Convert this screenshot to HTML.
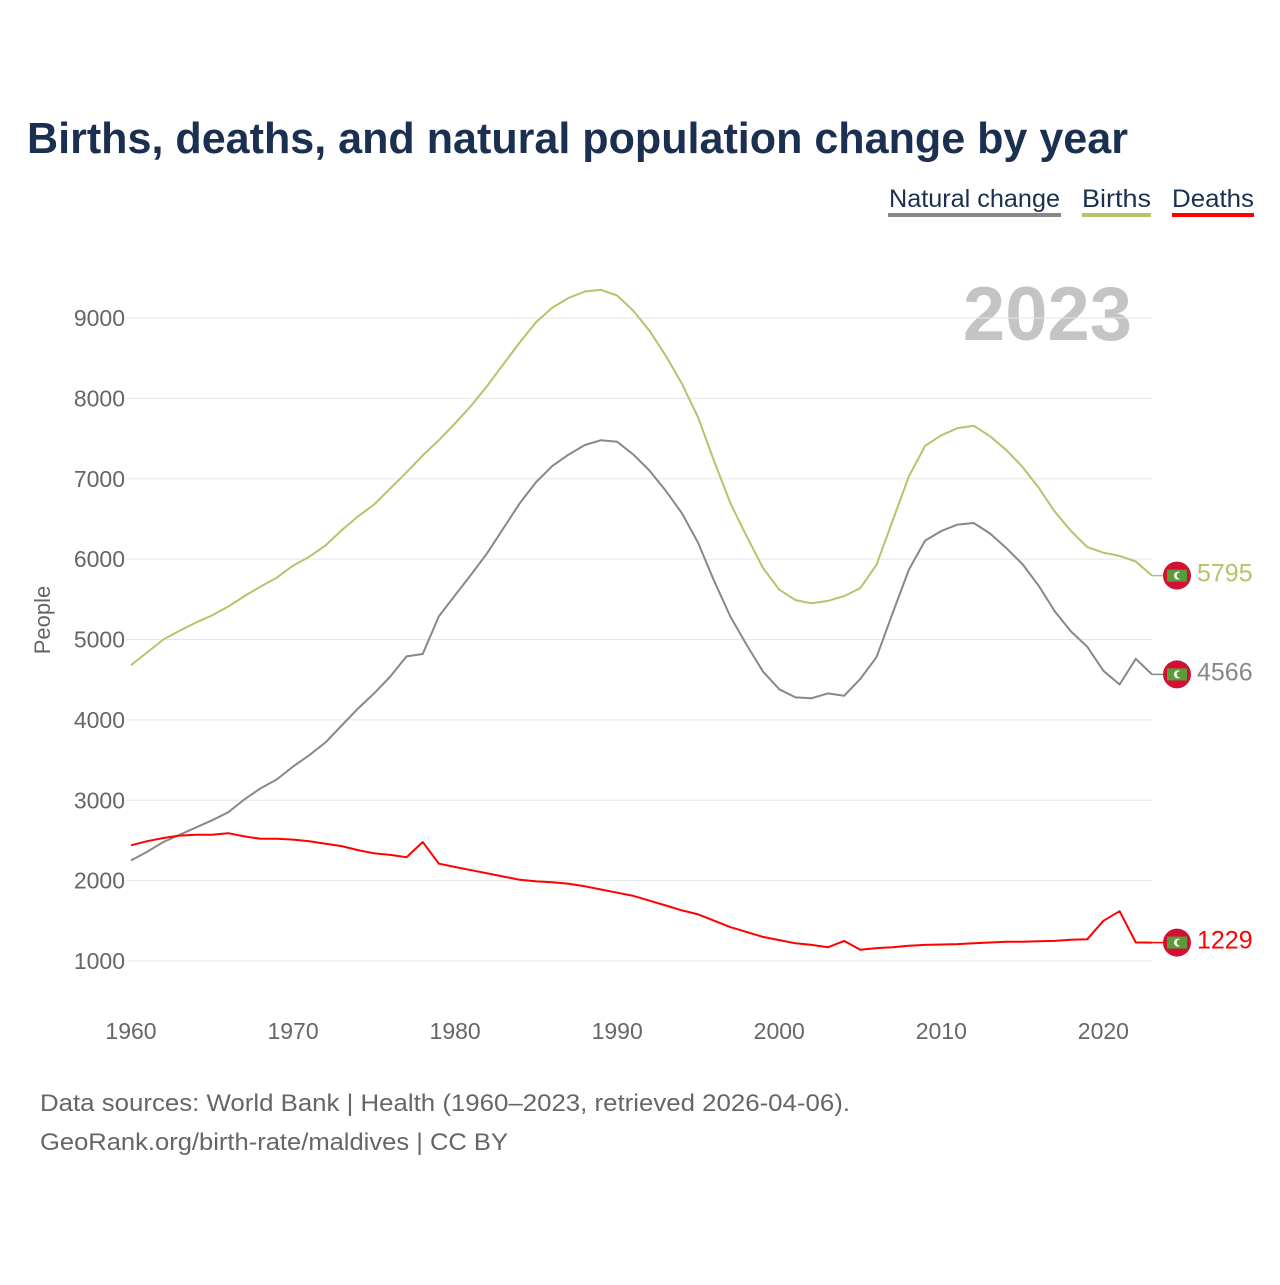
<!DOCTYPE html>
<html><head><meta charset="utf-8"><style>
body{margin:0;background:#fff;}
svg text{font-family:"Liberation Sans",sans-serif;}
</style></head><body>
<svg width="1280" height="1280" xmlns="http://www.w3.org/2000/svg">
<text x="27" y="153" font-size="44" font-weight="bold" fill="#1b3050" textLength="1101" lengthAdjust="spacingAndGlyphs">Births, deaths, and natural population change by year</text>
<g id="legend" font-size="25" fill="#1b3050">
<g><text x="889" y="207" fill="#1b3050" textLength="171" lengthAdjust="spacingAndGlyphs">Natural change</text><rect x="888" y="213" width="173" height="4" fill="#888"/></g>
<g><text x="1082" y="207" fill="#1b3050" textLength="69" lengthAdjust="spacingAndGlyphs">Births</text><rect x="1082" y="213" width="69" height="4" fill="#b5c46a"/></g>
<g><text x="1172" y="207" fill="#1b3050" textLength="82" lengthAdjust="spacingAndGlyphs">Deaths</text><rect x="1172" y="213" width="82" height="4" fill="#ff0000"/></g>
</g>
<text x="1132" y="340" font-size="76" font-weight="bold" fill="#c4c4c4" text-anchor="end">2023</text>
<g id="grid"></g><g id="yt"></g><g id="xt"></g><g id="lines"></g><g id="ends"></g>
<text transform="translate(50,620) rotate(-90)" font-size="22" fill="#666" text-anchor="middle">People</text>
<text x="40" y="1111" font-size="24" fill="#666" textLength="810" lengthAdjust="spacingAndGlyphs">Data sources: World Bank | Health (1960–2023, retrieved 2026-04-06).</text>
<text x="40" y="1150" font-size="24" fill="#666" textLength="468" lengthAdjust="spacingAndGlyphs">GeoRank.org/birth-rate/maldives | CC BY</text>
</svg>
<script>
const years=[];for(let y=1960;y<=2023;y++)years.push(y);
const births=[4680,4840,5000,5110,5210,5300,5410,5540,5660,5770,5920,6030,6170,6360,6530,6680,6880,7080,7290,7480,7690,7910,8160,8430,8700,8950,9130,9250,9330,9350,9280,9090,8840,8530,8180,7760,7210,6690,6280,5890,5620,5490,5450,5480,5540,5640,5930,6480,7030,7410,7540,7630,7660,7530,7360,7150,6890,6590,6350,6150,6080,6040,5970,5795];
const natural=[2250,2360,2480,2570,2660,2750,2850,3010,3150,3260,3420,3560,3720,3930,4140,4330,4540,4790,4820,5290,5550,5810,6080,6390,6700,6960,7160,7300,7420,7480,7460,7300,7100,6850,6570,6200,5720,5280,4930,4600,4380,4280,4270,4330,4300,4510,4780,5330,5870,6230,6350,6430,6450,6320,6140,5940,5670,5350,5100,4910,4610,4440,4760,4566];
const deaths=[2440,2490,2530,2560,2570,2570,2590,2550,2520,2520,2510,2490,2460,2430,2380,2340,2320,2290,2480,2210,2170,2130,2090,2050,2010,1990,1980,1960,1930,1890,1850,1810,1750,1690,1630,1580,1500,1420,1360,1300,1260,1220,1200,1170,1250,1140,1160,1170,1190,1200,1205,1210,1220,1230,1240,1240,1245,1250,1265,1270,1500,1620,1230,1229];
const yTicks=[1000,2000,3000,4000,5000,6000,7000,8000,9000];
const xTicks=[1960,1970,1980,1990,2000,2010,2020];
const NS="http://www.w3.org/2000/svg";
const X=v=>131+(v-1960)*(1152-131)/63;
const Y=v=>961-(v-1000)*(643/8000);
function mk(t,a,p){const e=document.createElementNS(NS,t);for(const k in a)e.setAttribute(k,a[k]);p.appendChild(e);return e;}
const grid=document.getElementById('grid'),yt=document.getElementById('yt'),xt=document.getElementById('xt');
yTicks.forEach(v=>{
 const l=mk('line',{x1:126,x2:1152,y1:Y(v),y2:Y(v),stroke:'#e6e6e6','stroke-width':1},grid);
 
 
 const t=mk('text',{x:125,y:Y(v)+8,'font-size':23,fill:'#666','text-anchor':'end'},yt);t.textContent=v;
 
 
});
xTicks.forEach(v=>{
 const t=mk('text',{x:X(v),y:1039,'font-size':23,fill:'#666','text-anchor':'middle'},xt);t.textContent=v;
 
 
});
const lines=document.getElementById('lines'),ends=document.getElementById('ends');
[[natural,'#888','natural-change'],[births,'#b5c46a','births'],[deaths,'#ff0000','deaths']].forEach(([d,c,n])=>{
 const p=mk('path',{d:d.map((v,i)=>(i?'L':'M')+X(years[i]).toFixed(1)+','+Y(v).toFixed(1)).join(''),fill:'none',stroke:c,'stroke-width':2,'stroke-linejoin':'round'},lines);
 
 
 const last=d[d.length-1],yy=Y(last);
 mk('line',{x1:1152,x2:1165,y1:yy,y2:yy,stroke:c,'stroke-width':1.5},ends);
 const g=mk('g',{},ends);
 
 
 mk('circle',{cx:1177,cy:yy,r:14,fill:'#d21034'},g);
 mk('rect',{x:1167,y:yy-6,width:20,height:12,fill:'#5a9b3a'},g);
 mk('circle',{cx:1178,cy:yy,r:4,fill:'#fff'},g);
 mk('circle',{cx:1180,cy:yy,r:3.3,fill:'#5a9b3a'},g);
 const t=mk('text',{x:1197,y:yy+6,'font-size':25,fill:c},ends);t.textContent=last;
 
 
});
</script>
</body></html>
